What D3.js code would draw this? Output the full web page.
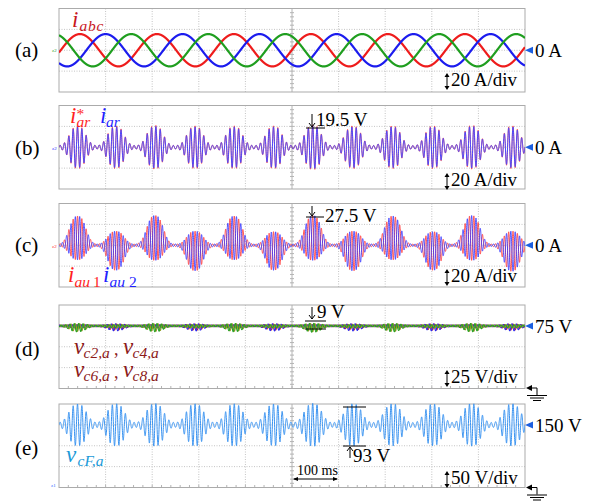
<!DOCTYPE html>
<html>
<head>
<meta charset="utf-8">
<script src="https://cdn.jsdelivr.net/npm/d3@7/dist/d3.min.js"></script>
<style>
  html, body { margin: 0; padding: 0; background: #fff; }
  svg { display: block; }
  svg text { font-family: "Liberation Serif", "Times New Roman", Times, "DejaVu Serif", serif !important; }
</style>
</head>
<body>
<svg id="scope" width="591" height="502"></svg>
<script>
const panelLabels = ['(a)', '(b)', '(c)', '(d)', '(e)'];
const panelDomains = [[-40, 40], [-40, 40], [-40, 40], [0, 100], [0, 200]];
const refValues = [0, 0, 0, 75, 150];
const refLabels = ['0 A', '0 A', '0 A', '75 V', '150 V'];
const divLabels = ['20 A/div', '20 A/div', '20 A/div', '25 V/div', '50 V/div'];
const timeTicks = d3.range(0, 1001, 100); // 100 ms/div, 10 div

// (a) grid currents, red peaks read in ms
const phaseShiftDeg = [0, -120, 120];
const phasePeakA = [15.5, 15.5, 15.5];
const redPeakMs = [45, 208, 373, 539, 704, 871];

// lobe centres shared by (b)-(e), ms
const lobeMs = [40, 122, 206, 292, 376, 461, 545, 631, 716, 803, 886, 972];
const carrierHz = 107;

// (b) i*_ar and i_ar peak per lobe, A
const arRefPeak = [19, 19, 19.5, 19, 19, 19, 20, 19, 19, 19, 19.5, 19];
const arPeak = [18, 18, 18.5, 18, 18, 18, 19, 18, 18, 18, 18.5, 18];

// (c) i_au1 / i_au2 lobe top and bottom, A
const auTop = [27, 12.5, 27.5, 12.5, 27, 12, 27.5, 12.5, 27, 12, 27.5, 12.5];
const auBottom = [-13, -23, -13.5, -23.5, -13, -23, -13.5, -23.5, -13, -23, -13.5, -24];

// (d) capacitor ripple swing per lobe, V
const vc2Lobe = [6, 1.2, 6, 1.2, 6, 1.2, 6.5, 1.2, 6, 1.2, 6, 1.2];
const vc4Lobe = [1.2, 5, 1.2, 5, 1.2, 5, 1.2, 5, 1.2, 5, 1.2, 5];
const vc6Lobe = [5.5, 1.5, 5.5, 1.5, 5.5, 1.5, 6, 1.5, 5.5, 1.5, 5.5, 1.5];
const vc8Lobe = [1.5, 4, 1.5, 4, 1.5, 4, 1.5, 4, 1.5, 4, 1.5, 4];

// (e) v_cF,a half swing per lobe, V
const vcfLobe = [45, 45.5, 46, 45.5, 45.5, 45, 46.5, 45.5, 45.5, 45, 46, 45.5];

// ---- layout ----
const plotLeft = 59, plotRight = 525;
const panelTop = [8.5, 105.5, 203.5, 305, 404];
const panelHeight = 83.5;
const serif = "'Liberation Serif', 'Times New Roman', Times, 'DejaVu Serif', serif";

const svg = d3.select('#scope');
const x = d3.scaleLinear().domain([0, 1000]).range([plotLeft, plotRight]);
const tSamples = d3.range(0, 1000.01, 0.2);
const w = 2 * Math.PI * carrierHz / 1000;

// rounded "bubble" around each lobe centre
function lobeEnvelope(t, amps, sigma) {
  let s = 0;
  for (let k = 0; k < lobeMs.length; k++) {
    const d = Math.abs(t - lobeMs[k]) / sigma;
    s += amps[k] * Math.exp(-0.5 * Math.pow(d, 2.6));
  }
  return s;
}

function put(g, px, py, str, size, color, italic) {
  return g.append('text')
    .attr('x', px).attr('y', py)
    .attr('font-family', serif)
    .attr('font-size', size)
    .attr('font-style', italic ? 'italic' : 'normal')
    .attr('fill', color)
    .text(str);
}

// one <text> per symbol; parts: [str, size, italic, x, y]
function mathText(color, parts) {
  const t = svg.append('text').attr('font-family', serif).attr('fill', color);
  parts.forEach(([str, size, italic, px, py]) => {
    t.append('tspan')
      .attr('x', px).attr('y', py)
      .attr('font-size', size)
      .attr('font-style', italic ? 'italic' : 'normal')
      .text(str);
  });
  return t;
}

const yScales = panelTop.map((top, i) =>
  d3.scaleLinear().domain(panelDomains[i]).range([top + panelHeight, top]));

// ---- graticule ----
panelTop.forEach((top, i) => {
  const y = yScales[i];
  const [lo, hi] = panelDomains[i];
  const div = (hi - lo) / 4;
  const g = svg.append('g').attr('class', 'grid');

  g.selectAll('.vgrid')
    .data(timeTicks.filter(t => t > 0 && t < 1000 && t !== 500))
    .join('line')
    .attr('x1', d => x(d)).attr('x2', d => x(d))
    .attr('y1', top).attr('y2', top + panelHeight)
    .attr('stroke', '#c4c4c4').attr('stroke-dasharray', '1,1.5');

  g.selectAll('.hgrid')
    .data(d3.range(lo + div, hi - div / 2, div))
    .join('line')
    .attr('x1', plotLeft).attr('x2', plotRight)
    .attr('y1', d => y(d)).attr('y2', d => y(d))
    .attr('stroke', '#c4c4c4').attr('stroke-dasharray', '1,1.5');

  g.append('line')
    .attr('x1', x(500)).attr('x2', x(500))
    .attr('y1', top).attr('y2', top + panelHeight)
    .attr('stroke', '#b4b4b4');

  g.selectAll('.ctick')
    .data(d3.range(lo + div / 5, hi, div / 5))
    .join('line')
    .attr('x1', x(500) - 2).attr('x2', x(500) + 2)
    .attr('y1', d => y(d)).attr('y2', d => y(d))
    .attr('stroke', '#b4b4b4');

  if (i >= 3) {
    g.selectAll('.btick')
      .data(d3.range(20, 1000, 20))
      .join('line')
      .attr('x1', d => x(d)).attr('x2', d => x(d))
      .attr('y1', top + panelHeight).attr('y2', top + panelHeight - 2.5)
      .attr('stroke', '#b4b4b4');
  }

  g.append('rect')
    .attr('x', plotLeft).attr('y', top)
    .attr('width', plotRight - plotLeft).attr('height', panelHeight)
    .attr('fill', 'none').attr('stroke', '#ababab');

  svg.append('clipPath').attr('id', 'clip' + i)
    .append('rect')
    .attr('x', plotLeft).attr('y', top - 3)
    .attr('width', plotRight - plotLeft).attr('height', panelHeight + 3);
});

function trace(i, fn, color, width, opacity) {
  const y = yScales[i];
  const line = d3.line().x(t => x(t)).y(t => y(fn(t)));
  svg.append('path')
    .datum(tSamples)
    .attr('clip-path', 'url(#clip' + i + ')')
    .attr('d', line)
    .attr('fill', 'none')
    .attr('stroke', color)
    .attr('stroke-width', width)
    .attr('stroke-opacity', opacity == null ? 1 : opacity)
    .attr('stroke-linejoin', 'round');
}

// ---- (a) i_abc ----
const fundMs = d3.mean(d3.pairs(redPeakMs), p => p[1] - p[0]);
const phaseColors = ['#ee1c1c', '#1c1cee', '#1f9e1f'];
phaseShiftDeg.forEach((deg, k) => {
  trace(0, t => phasePeakA[k] *
    Math.cos(2 * Math.PI * (t - redPeakMs[0]) / fundMs + deg * Math.PI / 180),
    phaseColors[k], 2.2);
});

// ---- (b) i*_ar, i_ar ----
trace(1, t => (lobeEnvelope(t, arRefPeak, 17) + 1.5) * Math.sin(w * t), '#ff2a2a', 0.7);
trace(1, t => (lobeEnvelope(t, arPeak, 17) + 1.5) * Math.sin(w * t), '#4646ff', 1);

// ---- (c) i_au1, i_au2 ----
const auMid = auTop.map((v, k) => (v + auBottom[k]) / 2);
const auHalf = auTop.map((v, k) => (v - auBottom[k]) / 2);
trace(2, t => lobeEnvelope(t, auMid, 17) + (lobeEnvelope(t, auHalf, 17) + 1) * Math.sin(w * t), '#ff3a3a', 1, 0.85);
trace(2, t => lobeEnvelope(t, auMid, 17) - (lobeEnvelope(t, auHalf, 17) + 1) * Math.sin(w * t), '#3030ff', 1, 0.8);

// ---- (d) v_c2..v_c8 ----
const vcSets = [vc8Lobe, vc4Lobe, vc6Lobe, vc2Lobe];
const vcColors = ['#e02424', '#2a2aee', '#9a9a1c', '#28a028'];
vcSets.forEach((arr, k) => {
  const ph = k * Math.PI / 2;
  trace(3, t => {
    const a = lobeEnvelope(t, arr, 16);
    return 75 - 0.35 * a + (0.65 * a + 1) * Math.sin(w * t + ph);
  }, vcColors[k], 1.1);
});

// ---- (e) v_cF,a ----
trace(4, t => 150 + (lobeEnvelope(t, vcfLobe, 18) + 5) * Math.sin(w * t), '#3a93f0', 1);

// ---- labels ----
const labelBase = [57, 155, 252, 356, 455];
panelLabels.forEach((s, i) => put(svg, 15, labelBase[i], s, 21, '#000'));

refValues.forEach((v, i) => {
  const yy = yScales[i](v);
  svg.append('path')
    .attr('d', `M${plotRight},${yy} L${plotRight + 8},${yy - 3.5} L${plotRight + 8},${yy + 3.5} Z`)
    .attr('fill', '#1c5fe0');
  put(svg, 535, yy + 7, refLabels[i], 19, '#000');
});

const divBase = [86, 186, 282, 383, 484];
divLabels.forEach((s, i) => {
  const b = divBase[i];
  svg.append('line').attr('x1', 447).attr('x2', 447)
    .attr('y1', b - 11).attr('y2', b + 2).attr('stroke', '#000');
  svg.append('path')
    .attr('d', `M444.5,${b - 9} L447,${b - 13} L449.5,${b - 9} Z M444.5,${b} L447,${b + 4} L449.5,${b} Z`)
    .attr('fill', '#000');
  put(svg, 451, b, s, 19, '#000');
});

// ground marks under (d) and (e)
[388, 487.5].forEach(gy => {
  svg.append('path')
    .attr('d', `M526,${gy} L532,${gy - 3} L532,${gy + 3} Z`).attr('fill', '#000');
  svg.append('path')
    .attr('d', `M530,${gy} H537 V${gy + 7} M527,${gy + 7.5} H547 M530,${gy + 10} H544 M533,${gy + 12.5} H541`)
    .attr('fill', 'none').attr('stroke', '#000');
});

// little channel tags at left edge
[['#1f9e1f', 50], ['#2a2aff', 148], ['#ff2a2a', 246]].forEach(([c, yy]) => {
  put(svg, 52, yy + 2, 'z2', 5, c);
});
put(svg, 51, 487, 'z1', 5, '#2a6aff');

// ---- magnitude marks ----
function downArrow(px, y1, y2) {
  svg.append('line').attr('x1', px).attr('x2', px).attr('y1', y1).attr('y2', y2).attr('stroke', '#000');
  svg.append('path').attr('d', `M${px - 3},${y2 - 4} L${px},${y2} L${px + 3},${y2 - 4}`)
    .attr('fill', 'none').attr('stroke', '#000');
}
function upArrow(px, y1, y2) {
  svg.append('line').attr('x1', px).attr('x2', px).attr('y1', y1).attr('y2', y2).attr('stroke', '#000');
  svg.append('path').attr('d', `M${px - 3},${y1 + 4} L${px},${y1} L${px + 3},${y1 + 4}`)
    .attr('fill', 'none').attr('stroke', '#000');
}
function hbar(x1, x2, yy) {
  svg.append('line').attr('x1', x1).attr('x2', x2).attr('y1', yy).attr('y2', yy).attr('stroke', '#000');
}

downArrow(312, 114, 127); hbar(306, 325, 128);
put(svg, 316, 126, '19.5 V', 19, '#000');

downArrow(312, 206, 216); hbar(306, 324, 217);
put(svg, 325, 222, '27.5 V', 19, '#000');

downArrow(312, 307, 319); hbar(305, 326, 321); hbar(305, 326, 329);
put(svg, 317, 318, '9 V', 19, '#000');

hbar(343, 366, 407); hbar(343, 366, 446);
upArrow(350, 447, 458);
put(svg, 353, 462, '93 V', 19, '#000');

// time base
svg.append('line').attr('x1', 294).attr('x2', 337).attr('y1', 479).attr('y2', 479).attr('stroke', '#000');
svg.append('path').attr('d', 'M293,479 L298,477 L298,481 Z M338,479 L333,477 L333,481 Z').attr('fill', '#000');
put(svg, 297, 475, '100 ms', 14, '#000');

// ---- trace names ----
const cA = '#c8161d', cR = '#ff1f1f', cB = '#1f1fff', cV = '#8c1a1a', cF = '#1a9ad8';
mathText(cA, [['i', 23, true, 72, 27], ['abc', 15.5, true, 79.5, 31]]).attr('letter-spacing', 0.8);
mathText(cR, [['i', 23, true, 70, 123], ['*', 15.5, false, 76.5, 119], ['ar', 15.5, true, 76.5, 127]]);
mathText(cB, [['i', 23, true, 100, 123], ['ar', 15.5, true, 106, 127]]);
mathText(cR, [['i', 23, true, 68, 282], ['au', 15.5, true, 74.5, 287], ['1', 15.5, false, 93, 287]]);
mathText(cB, [['i', 23, true, 103, 282], ['au', 15.5, true, 109.5, 287], ['2', 15.5, false, 129, 287]]);
[[354, 'c2,a', 'c4,a'], [377, 'c6,a', 'c8,a']].forEach(([b, s1, s2]) => {
  mathText(cV, [['v', 23, true, 74, b], [s1, 15.5, true, 83.5, b + 4], [',', 18, false, 114, b + 1],
    ['v', 23, true, 123, b], [s2, 15.5, true, 132.5, b + 4]]);
});
mathText(cF, [['v', 23, true, 66, 462], ['cF,a', 15.5, true, 77.5, 466]]);
</script>
</body>
</html>
